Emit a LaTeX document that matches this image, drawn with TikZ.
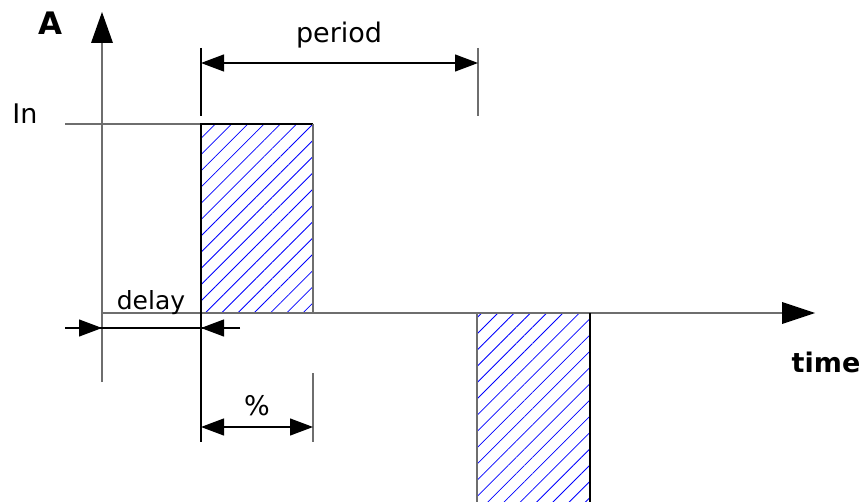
\documentclass[tikz,border=0pt]{standalone}
\usepackage{fontspec}
\setmainfont{DejaVu Sans}
\usetikzlibrary{arrows.meta,patterns.meta}
\definecolor{axisgray}{RGB}{110,110,110}
\begin{document}
\begin{tikzpicture}[x=1pt,y=-1pt,
  axisline/.style={draw=axisgray,line width=1.5pt},
  blackline/.style={draw=black,line width=1.3pt},
  grayline/.style={draw=axisgray,line width=1.3pt},
  dimtip/.style={{Triangle[length=23pt,width=17pt]}-{Triangle[length=23pt,width=17pt]}},
  onetip/.style={-{Triangle[length=23pt,width=17pt]}},
  hatch/.style={pattern={Lines[angle=45,distance=11.5pt,line width=0.8pt]},pattern color=blue},
  lbl/.style={inner sep=0pt,anchor=base,font=\fontsize{27}{30}\selectfont},
  blbl/.style={lbl,font=\fontsize{27}{30}\selectfont\bfseries}]
\useasboundingbox (0,0) rectangle (866,502);
% key points
\coordinate (O) at (102,313);
\coordinate (Ytop) at (102,12);
\coordinate (Ybase) at (102,43);
\coordinate (Ybot) at (102,382);
\coordinate (Xend) at (815,313);
\coordinate (Xbase) at (782,313);
\coordinate (InL) at (65,124);
\coordinate (P1tl) at (201,124);
\coordinate (P1tr) at (313,124);
\coordinate (P1bl) at (201,313);
\coordinate (P1br) at (313,313);
\coordinate (P2tl) at (477,313);
\coordinate (P2tr) at (590,313);
\coordinate (P2bl) at (477,502);
\coordinate (P2br) at (590,502);
% hatched pulses
\path[hatch] (P1tl) rectangle (P1br);
\path[hatch] (P2tl) rectangle (P2br);
% axes
\draw[axisline] (Ybot) -- (Ybase);
\draw[axisline] (O) -- (Xbase);
\fill[black] (Ytop) -- (91,43) -- (113,43) -- cycle;
\fill[black] (Xend) -- (782,302) -- (782,324) -- cycle;
% In level
\draw[axisline] (InL) -- (P1tl);
% pulse borders
\draw[blackline] (P1bl) -- (P1tl) -- (P1tr);
\draw[grayline] (P1tr) -- (P1br);
\draw[grayline] (P2tl) -- (P2bl);
\draw[blackline] (P2tr) -- (P2br);
% period dimension
\coordinate (PerA1) at (201,48);
\coordinate (PerA2) at (201,116);
\coordinate (PerB1) at (478,48);
\coordinate (PerB2) at (478,116);
\coordinate (PerL) at (201,63);
\coordinate (PerR) at (478,63);
\draw[blackline,line width=1.2pt] (PerA1) -- (PerA2);
\draw[grayline] (PerB1) -- (PerB2);
\draw[blackline,line width=1.2pt,dimtip] (PerL) -- (PerR);
% delay dimension
\coordinate (Dext) at (201,442);
\coordinate (DL0) at (65,328);
\coordinate (DL) at (102,328);
\coordinate (DR) at (201,328);
\coordinate (DR0) at (240,328);
\draw[blackline,line width=1.2pt] (P1bl) -- (Dext);
\draw[blackline,line width=1.2pt] (DL0) -- (DR0);
\draw[blackline,line width=1.2pt,onetip] (DL0) -- (DL);
\draw[blackline,line width=1.2pt,onetip] (DR0) -- (DR);
% percent dimension
\coordinate (PcR1) at (313,373);
\coordinate (PcR2) at (313,442);
\coordinate (PcL) at (201,427);
\coordinate (PcR) at (313,427);
\draw[grayline] (PcR1) -- (PcR2);
\draw[blackline,line width=1.2pt,dimtip] (PcL) -- (PcR);
% labels
\node[blbl,font=\fontsize{31}{34}\selectfont\bfseries] (A) at (50,35) {A};
\node[lbl] (In) at (25,124) {In};
\node[lbl] (period) at (339,43) {period};
\node[lbl,font=\fontsize{25}{28}\selectfont] (delay) at (151,309) {delay};
\node[lbl] (pct) at (257,415) {\%};
\node[blbl] (time) at (826,372) {time};
\end{tikzpicture}
\end{document}
